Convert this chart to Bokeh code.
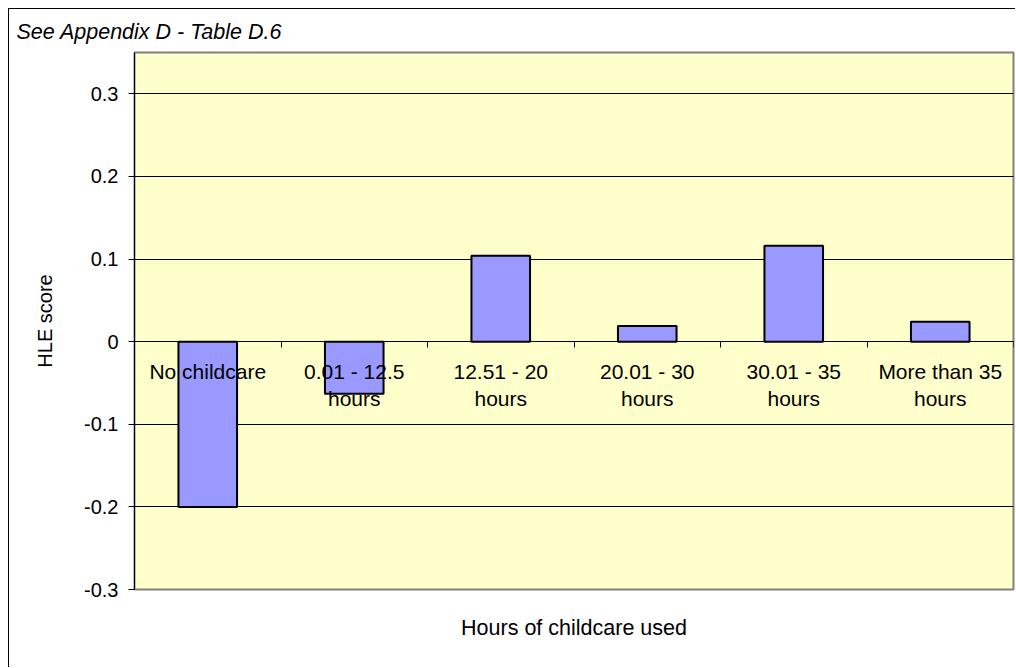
import numpy as np
from bokeh.plotting import figure
from bokeh.models import Range1d, FixedTicker, LinearAxis, CustomJSTickFormatter
from bokeh.core.properties import value
from bokeh.embed import file_html
from bokeh.resources import INLINE

# ---- data ----
categories = ["No childcare", "0.01 - 12.5\nhours", "12.51 - 20\nhours",
              "20.01 - 30\nhours", "30.01 - 35\nhours", "More than 35\nhours"]
hle_scores = [-0.200, -0.063, 0.104, 0.019, 0.116, 0.024]
y_ticks = [-0.3, -0.2, -0.1, 0, 0.1, 0.2, 0.3]
title_text = "See Appendix D - Table D.6"
x_title = "Hours of childcare used"
y_title = "HLE score"

FONT = "Liberation Sans"
n = len(categories)
centers = [i + 0.5 for i in range(n)]
bounds = list(range(n + 1))

p = figure(width=1007, height=659,
           x_range=Range1d(0, n), y_range=Range1d(-0.3, 0.35),
           output_backend="svg", toolbar_location=None,
           min_border_left=125, min_border_right=3,
           min_border_top=41, min_border_bottom=79)
p.styles = {"margin-left": "8px", "margin-top": "8px",
            "border-left": "1px solid black", "border-top": "1px solid black"}

p.background_fill_color = "#FFFFCC"
p.border_fill_color = "white"
p.outline_line_color = "#808080"
p.outline_line_width = 2

# grid
p.xgrid.visible = False
p.ygrid.ticker = FixedTicker(ticks=y_ticks)
p.ygrid.grid_line_color = "#000000"
p.ygrid.grid_line_width = 1

# y axis
p.yaxis.ticker = FixedTicker(ticks=y_ticks)
p.yaxis.formatter = CustomJSTickFormatter(
    code="return Math.abs(tick) < 1e-9 ? '0' : tick.toFixed(1);")
p.yaxis.major_label_text_font = FONT
p.yaxis.major_label_text_font_size = "20px"
p.yaxis.major_label_text_color = "black"
p.yaxis.major_tick_out = 6
p.yaxis.major_tick_in = 0
p.yaxis.major_tick_line_color = "black"
p.yaxis.minor_tick_line_color = None
p.yaxis.major_label_standoff = 10
p.yaxis.axis_line_color = "black"
p.yaxis.axis_label = y_title
p.yaxis.axis_label_text_font = FONT
p.yaxis.axis_label_text_font_style = "normal"
p.yaxis.axis_label_text_font_size = "20px"
p.yaxis.axis_label_text_color = "black"
p.yaxis.axis_label_standoff = 25

# bottom axis: only the title
p.xaxis.ticker = FixedTicker(ticks=[])
p.xaxis.axis_line_color = None
p.xaxis.major_tick_line_color = None
p.xaxis.minor_tick_line_color = None
p.xaxis.axis_label = x_title
p.xaxis.axis_label_text_font = FONT
p.xaxis.axis_label_text_font_style = "normal"
p.xaxis.axis_label_text_font_size = "21.5px"
p.xaxis.axis_label_text_color = "black"
p.xaxis.axis_label_standoff = 26

# category axis at zero with tick marks between categories
zero_axis = LinearAxis(fixed_location=0, ticker=FixedTicker(ticks=bounds),
                       formatter=CustomJSTickFormatter(code="return '';"),
                       major_tick_out=6, major_tick_in=0,
                       major_tick_line_color="black",
                       minor_tick_line_color=None,
                       axis_line_color="black")
p.add_layout(zero_axis, "below")

# bars
p.vbar(x=centers, top=hle_scores, bottom=0, width=0.4,
       fill_color="#9999FF", line_color="black", line_width=2)

# category labels
p.text(x=centers, y=[0] * n, text=categories,
       text_align="center", text_baseline="top", y_offset=18,
       text_font=value(FONT), text_font_size="21px", text_color="black",
       text_line_height=1.2)

# title
p.title.text = title_text
p.title.text_font = FONT
p.title.text_font_style = "italic"
p.title.text_font_size = "21.5px"
p.title.text_color = "black"
p.title.align = "left"
p.title.offset = -118
p.title.standoff = 17

open("out.html", "w").write(file_html(p, INLINE))
